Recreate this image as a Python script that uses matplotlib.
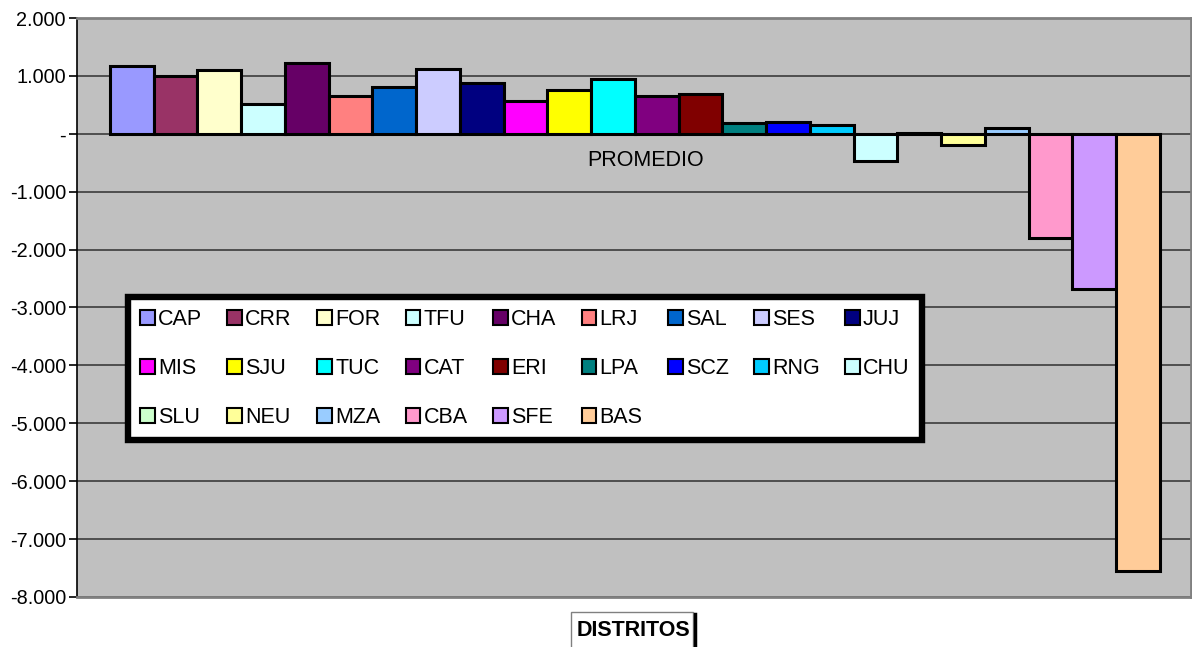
import matplotlib
matplotlib.use("Agg")
import matplotlib.pyplot as plt
from matplotlib.patches import Rectangle
from matplotlib.lines import Line2D
from matplotlib.ticker import FixedLocator

plt.rcParams['font.family'] = ['Liberation Sans', 'DejaVu Sans']

districts = ["CAP", "CRR", "FOR", "TFU", "CHA", "LRJ", "SAL", "SES", "JUJ",
             "MIS", "SJU", "TUC", "CAT", "ERI", "LPA", "SCZ", "RNG", "CHU",
             "SLU", "NEU", "MZA", "CBA", "SFE", "BAS"]
values = [1175, 1000, 1100, 516, 1217, 660, 815, 1118, 872,
          568, 752, 941, 660, 683, 180, 197, 150, -470,
          20, -200, 93, -1800, -2680, -7550]
colors = ["#9999FF", "#993366", "#FFFFCC", "#CCFFFF", "#660066", "#FF8080",
          "#0066CC", "#CCCCFF", "#000080", "#FF00FF", "#FFFF00", "#00FFFF",
          "#800080", "#800000", "#008080", "#0000FF", "#00CCFF", "#CCFFFF",
          "#CCFFCC", "#FFFF99", "#99CCFF", "#FF99CC", "#CC99FF", "#FFCC99"]
yticks = [2000, 1000, 0, -1000, -2000, -3000, -4000, -5000, -6000, -7000, -8000]
ytick_labels = ["2.000", "1.000", "-", "-1.000", "-2.000", "-3.000", "-4.000",
                "-5.000", "-6.000", "-7.000", "-8.000"]

W, H = 1192, 647
fig = plt.figure(figsize=(W / 100, H / 100), dpi=100)
ax = fig.add_axes([77 / W, 1 - 597 / H, (1191 - 77) / W, (597 - 18) / H])
ax.set_facecolor("#C0C0C0")

ax.set_ylim(-8000, 2000)
ax.set_xlim(-1.254, 24.209)
ax.yaxis.set_major_locator(FixedLocator(yticks))
ax.set_yticklabels(ytick_labels, fontsize=14.3)
ax.set_xticks([])
ax.grid(axis="y", color="#303030", linewidth=1.1)
ax.set_axisbelow(True)
ax.tick_params(axis="y", direction="out", length=6, width=1.2, color="black", pad=2)

for s in ["top", "right", "bottom"]:
    ax.spines[s].set_color("#808080")
    ax.spines[s].set_linewidth(2)
ax.spines["left"].set_color("black")
ax.spines["left"].set_linewidth(1.2)

handles = []
for i, (name, v, c) in enumerate(zip(districts, values, colors)):
    b = ax.bar(i, v, width=1.0, color=c, edgecolor="black", linewidth=2.2,
               label=name, zorder=3)
    handles.append(b)

ax.text(11.75, -465, "PROMEDIO", fontsize=15.5, ha="center", va="center", zorder=4)

# legend is filled column by column: reorder so it reads row by row
ncol, nrow = 9, 3
order = [r * ncol + c for c in range(ncol) for r in range(nrow) if r * ncol + c < len(districts)]
leg = fig.legend(handles=[handles[k] for k in order],
                 labels=[districts[k] for k in order], ncol=ncol,
                 loc="upper left", bbox_to_anchor=(128 / W, 1 - 297 / H),
                 bbox_transform=fig.transFigure, borderaxespad=0,
                 fontsize=15.5, frameon=True, fancybox=False,
                 handlelength=0.68, handleheight=0.68, handletextpad=0.15,
                 columnspacing=1.18, labelspacing=1.3, borderpad=0.56)
fr = leg.get_frame()
fr.set_edgecolor("black")
fr.set_linewidth(4.6)
fr.set_facecolor("white")
fr.set_alpha(1)
for p in leg.get_patches():
    p.set_linewidth(1.5)

fig.text(633 / W, 1 - 630 / H, "DISTRITOS", fontsize=15.5, fontweight="bold",
         ha="center", va="center")
fig.add_artist(Rectangle((571 / W, -0.01), (693 - 571) / W, 0.01 + (647 - 612) / H,
                         transform=fig.transFigure, fill=False,
                         edgecolor="#808080", linewidth=1))
fig.add_artist(Line2D([695 / W, 695 / W], [0, 1 - 614 / H], transform=fig.transFigure,
                      color="black", linewidth=2.5))

fig.savefig("out.png", dpi=100)
